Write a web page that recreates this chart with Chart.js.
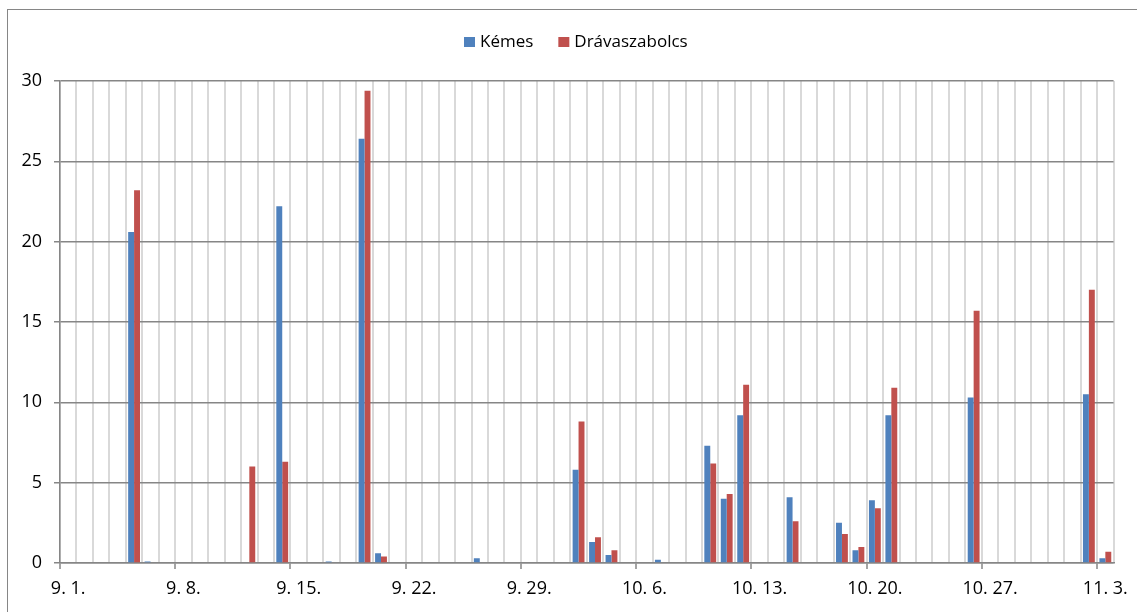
<!DOCTYPE html>
<html>
<head>
<meta charset="utf-8">
<title>Kémes – Drávaszabolcs</title>
<script src="https://cdn.jsdelivr.net/npm/chart.js@4/dist/chart.umd.min.js"></script>
<style>
  html, body { margin: 0; padding: 0; background: #ffffff; }
  #wrap { width: 1137px; height: 612px; }
</style>
</head>
<body>
<div id="wrap"><canvas id="chart" width="1137" height="612"></canvas></div>
<script>
// Daily categories, 1 Sept – 3 Nov
const days = [
  '9. 1.', '9. 2.', '9. 3.', '9. 4.', '9. 5.', '9. 6.', '9. 7.',
  '9. 8.', '9. 9.', '9. 10.', '9. 11.', '9. 12.', '9. 13.', '9. 14.',
  '9. 15.', '9. 16.', '9. 17.', '9. 18.', '9. 19.', '9. 20.', '9. 21.',
  '9. 22.', '9. 23.', '9. 24.', '9. 25.', '9. 26.', '9. 27.', '9. 28.',
  '9. 29.', '9. 30.', '10. 1.', '10. 2.', '10. 3.', '10. 4.', '10. 5.',
  '10. 6.', '10. 7.', '10. 8.', '10. 9.', '10. 10.', '10. 11.', '10. 12.',
  '10. 13.', '10. 14.', '10. 15.', '10. 16.', '10. 17.', '10. 18.', '10. 19.',
  '10. 20.', '10. 21.', '10. 22.', '10. 23.', '10. 24.', '10. 25.', '10. 26.',
  '10. 27.', '10. 28.', '10. 29.', '10. 30.', '10. 31.', '11. 1.', '11. 2.',
  '11. 3.'
];

// Daily values per station, one row per week
const kemes = [
  0, 0, 0, 0, 20.6, 0.1, 0,
  0, 0, 0, 0, 0, 0, 22.2,
  0, 0, 0.1, 0, 26.4, 0.6, 0,
  0, 0, 0, 0, 0.3, 0, 0,
  0, 0, 0, 5.8, 1.3, 0.5, 0,
  0, 0.2, 0, 0, 7.3, 4.0, 9.2,
  0, 0, 4.1, 0.05, 0, 2.5, 0.8,
  3.9, 9.2, 0, 0, 0, 0, 10.3,
  0, 0, 0, 0, 0, 0, 10.5,
  0.3
];

const dravaszabolcs = [
  0, 0, 0, 0, 23.2, 0, 0,
  0, 0, 0, 0, 6.0, 0, 6.3,
  0, 0, 0, 0, 29.4, 0.4, 0,
  0, 0, 0, 0, 0, 0, 0,
  0, 0, 0, 8.8, 1.6, 0.8, 0,
  0, 0, 0, 0, 6.2, 4.3, 11.1,
  0, 0, 2.6, 0.05, 0, 1.8, 1.0,
  3.4, 10.9, 0, 0, 0, 0, 15.7,
  0, 0, 0, 0, 0, 0, 17.0,
  0.7
];

const seriesNames = ['Kémes', 'Drávaszabolcs'];
const seriesColors = ['#4F81BD', '#C0504D'];
const yTicks = [0, 5, 10, 15, 20, 25, 30];
const labelEvery = 7;

const FONT = '"Open Sans", "Noto Sans", sans-serif';

// Outer frame of the chart area
const framePlugin = {
  id: 'frame',
  beforeDraw(chart) {
    const ctx = chart.ctx;
    ctx.save();
    ctx.fillStyle = '#ffffff';
    ctx.fillRect(0, 0, chart.width, chart.height);
    ctx.strokeStyle = '#868686';
    ctx.lineWidth = 1;
    ctx.strokeRect(7.5, 9.5, chart.width + 20, chart.height + 20);
    ctx.restore();
  }
};

// Legend row above the plot
const legendPlugin = {
  id: 'topLegend',
  afterDraw(chart) {
    const ctx = chart.ctx;
    ctx.save();
    ctx.font = '17px ' + FONT;
    ctx.textBaseline = 'middle';
    let x = 464;
    const cy = 42;
    chart.data.datasets.forEach(ds => {
      ctx.fillStyle = ds.backgroundColor;
      ctx.fillRect(x, cy - 5, 11, 10);
      ctx.fillStyle = '#000000';
      ctx.fillText(ds.label, x + 16, cy);
      x += 16 + ctx.measureText(ds.label).width + 25;
    });
    ctx.restore();
  }
};

new Chart(document.getElementById('chart'), {
  type: 'bar',
  data: {
    labels: days,
    datasets: [
      { label: seriesNames[0], data: kemes, backgroundColor: seriesColors[0] },
      { label: seriesNames[1], data: dravaszabolcs, backgroundColor: seriesColors[1] }
    ]
  },
  options: {
    responsive: false,
    animation: false,
    devicePixelRatio: 1,
    layout: { padding: { top: 81, right: 20, bottom: 0, left: 0 } },
    datasets: {
      bar: { categoryPercentage: 0.72, barPercentage: 1.0, borderWidth: 0 }
    },
    plugins: {
      legend: { display: false },
      tooltip: { enabled: false }
    },
    scales: {
      x: {
        type: 'category',
        z: -1,
        offset: true,
        grid: {
          offset: true,
          color: '#d9d9d9',
          lineWidth: 2,
          tickLength: 6,
          tickWidth: 1.5,
          tickColor: ctx => (ctx.index % labelEvery === 0 && ctx.index < days.length) ? '#868686' : 'rgba(0,0,0,0)'
        },
        border: { display: true, color: '#868686', width: 1.5 },
        ticks: {
          autoSkip: false,
          maxRotation: 0,
          minRotation: 0,
          padding: 9,
          color: '#000000',
          font: { family: FONT, size: 18 },
          callback: function (value, index) {
            return index % labelEvery === 0 ? this.getLabelForValue(value) : '';
          }
        },
        afterFit(scale) { scale.height = 49; }
      },
      y: {
        min: yTicks[0],
        max: yTicks[yTicks.length - 1],
        z: 0,
        afterBuildTicks(scale) { scale.ticks = yTicks.map(v => ({ value: v })); },
        grid: {
          color: '#868686',
          lineWidth: 1.5,
          tickLength: 6
        },
        border: { display: true, color: '#868686', width: 1.5 },
        ticks: {
          padding: 12,
          color: '#000000',
          font: { family: FONT, size: 18 }
        },
        afterFit(scale) { scale.width = 60; }
      }
    }
  },
  plugins: [framePlugin, legendPlugin]
});
</script>
</body>
</html>
